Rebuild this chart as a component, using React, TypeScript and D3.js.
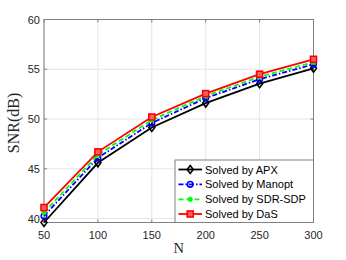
import React from "react";
import * as d3 from "d3";

const xVals = [50, 100, 150, 200, 250, 300];
const apx = [39.6, 45.6, 49.15, 51.6, 53.55, 55.1];
const manopt = [40.25, 46.1, 49.6, 52.1, 54.0, 55.5];
const sdrsdp = [40.6, 46.4, 49.9, 52.3, 54.25, 55.7];
const das = [41.1, 46.7, 50.2, 52.55, 54.5, 56.0];
const xTicks = [50, 100, 150, 200, 250, 300];
const yTicks = [40, 45, 50, 55, 60];
const seriesNames = ["Solved by APX", "Solved by Manopt", "Solved by SDR-SDP", "Solved by DaS"];

const W = 346, H = 260;
const L = 44, R = 313.5, T = 19.5, B = 222.5;

type Style = { color: string; dash: string | null; marker: string };
const styles: Style[] = [
  { color: "#000000", dash: null, marker: "diamond" },
  { color: "#0000ff", dash: "5,2,1.5,2", marker: "circle" },
  { color: "#00ff00", dash: "5,3", marker: "dot" },
  { color: "#ff0000", dash: null, marker: "square" },
];

function Marker({ x, y, kind, color }: { x: number; y: number; kind: string; color: string }) {
  if (kind === "diamond")
    return <path d={`M${x},${y - 4}L${x + 3},${y}L${x},${y + 4}L${x - 3},${y}Z`} fill="none" stroke={color} strokeWidth={1.6} />;
  if (kind === "circle") return <circle cx={x} cy={y} r={2.8} fill="none" stroke={color} strokeWidth={1.6} />;
  if (kind === "dot") return <circle cx={x} cy={y} r={2.4} fill={color} stroke={color} strokeWidth={0.5} />;
  return <rect x={x - 3} y={y - 3} width={6} height={6} fill="#ff6060" stroke={color} strokeWidth={1.6} />;
}

export default function App() {
  const x = d3.scaleLinear().domain([50, 300]).range([L, R]);
  const y = d3.scaleLinear().domain([39.6, 60]).range([B, T]);
  const data = [apx, manopt, sdrsdp, das];
  const line = d3.line<number>().x((_, i) => x(xVals[i])).y((d) => y(d));
  const tickColor = "#262626";
  const legX = 175, legY = 160, legW = R - 175, legH = B - 160;
  const rowY = [169.5, 184.3, 199.3, 214];
  return (
    <svg width={W} height={H} style={{ position: "absolute", left: 0, top: 0 }}>
      <rect width={W} height={H} fill="#fff" />
      {xTicks.map((t) => (
        <line key={"gx" + t} x1={x(t)} x2={x(t)} y1={T} y2={B} stroke="#e6e6e6" strokeWidth={1} />
      ))}
      {yTicks.map((t) => (
        <line key={"gy" + t} x1={L} x2={R} y1={y(t)} y2={y(t)} stroke="#e6e6e6" strokeWidth={1} />
      ))}
      <rect x={L} y={T} width={R - L} height={B - T} fill="none" stroke="#808080" strokeWidth={1} />
      {xTicks.map((t) => (
        <g key={"tx" + t}>
          <line x1={x(t)} x2={x(t)} y1={B} y2={B - 3} stroke="#808080" />
          <line x1={x(t)} x2={x(t)} y1={T} y2={T + 3} stroke="#808080" />
          <text x={x(t)} y={239} textAnchor="middle" fontFamily="Liberation Sans, Arial, sans-serif" fontSize={11} fill={tickColor}>{t}</text>
        </g>
      ))}
      {yTicks.map((t) => (
        <g key={"ty" + t}>
          <line x1={L} x2={L + 3} y1={y(t)} y2={y(t)} stroke="#808080" />
          <line x1={R} x2={R - 3} y1={y(t)} y2={y(t)} stroke="#808080" />
          <text x={L - 4} y={y(t) + 4} textAnchor="end" fontFamily="Liberation Sans, Arial, sans-serif" fontSize={11} fill={tickColor}>{t}</text>
        </g>
      ))}
      {data.map((s, i) => (
        <g key={"s" + i}>
          <path d={line(s) || ""} fill="none" stroke={styles[i].color} strokeWidth={1.8} strokeDasharray={styles[i].dash || undefined} />
          {s.map((v, j) => (
            <Marker key={j} x={x(xVals[j])} y={y(v)} kind={styles[i].marker} color={styles[i].color} />
          ))}
        </g>
      ))}
      <text x={(L + R) / 2} y={253} textAnchor="middle" fontFamily="Liberation Serif, Times New Roman, serif" fontSize={14.5} fill={tickColor}>N</text>
      <text transform={`translate(19,123) rotate(-90)`} textAnchor="middle" fontFamily="Liberation Serif, Times New Roman, serif" fontSize={16} fill={tickColor}>SNR(dB)</text>
      <rect x={legX} y={legY} width={legW} height={legH} fill="#fff" stroke="#808080" strokeWidth={1} />
      {seriesNames.map((n, i) => (
        <g key={"l" + i}>
          <line x1={178.5} x2={202} y1={rowY[i]} y2={rowY[i]} stroke={styles[i].color} strokeWidth={1.8} strokeDasharray={styles[i].dash || undefined} />
          <Marker x={190.2} y={rowY[i]} kind={styles[i].marker} color={styles[i].color} />
          <text x={205} y={rowY[i] + 4} fontFamily="Liberation Sans, Arial, sans-serif" fontSize={11} fill="#000">{n}</text>
        </g>
      ))}
    </svg>
  );
}
